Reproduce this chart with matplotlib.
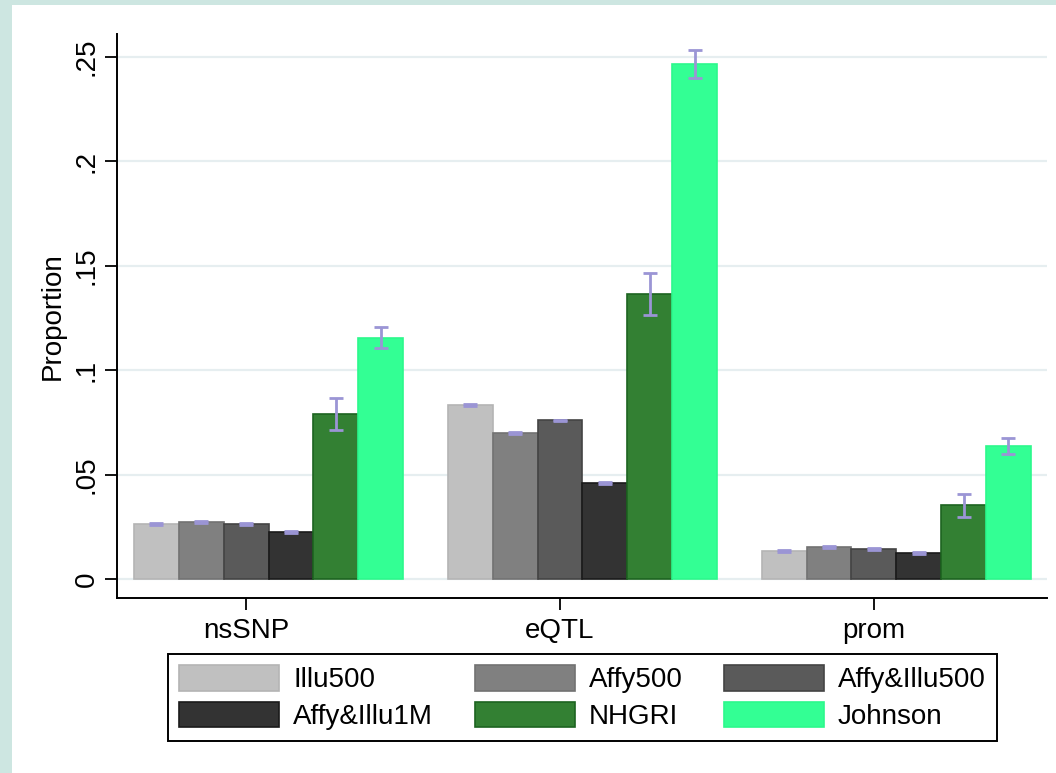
import numpy as np
import matplotlib
matplotlib.use("Agg")
import matplotlib.pyplot as plt
from matplotlib.patches import Rectangle

plt.rcParams['font.family'] = ['Liberation Sans', 'DejaVu Sans']

# data
groups = ['nsSNP', 'eQTL', 'prom']
series = ['Illu500', 'Affy500', 'Affy&Illu500', 'Affy&Illu1M', 'NHGRI', 'Johnson']
illu500 = [0.0263, 0.0833, 0.0134]
affy500 = [0.0273, 0.0700, 0.0153]
affy_illu500 = [0.0263, 0.0760, 0.0144]
affy_illu1m = [0.0225, 0.0460, 0.0125]
nhgri = [0.0790, 0.1365, 0.0354]
johnson = [0.1155, 0.2466, 0.0637]

# half-width of the confidence intervals
illu500_err = [0.0004, 0.0004, 0.0005]
affy500_err = [0.0006, 0.0004, 0.0004]
affy_illu500_err = [0.0006, 0.0003, 0.0005]
affy_illu1m_err = [0.0003, 0.0003, 0.0003]
nhgri_err = [0.0078, 0.0100, 0.0055]
johnson_err = [0.0050, 0.0068, 0.0036]

values = [illu500, affy500, affy_illu500, affy_illu1m, nhgri, johnson]
errors = [illu500_err, affy500_err, affy_illu500_err, affy_illu1m_err, nhgri_err, johnson_err]
faces = ['#c0c0c0', '#808080', '#5a5a5a', '#333333', '#338033', '#33ff94']
edges = ['#b4b4b4', '#727272', '#444444', '#1a1a1a', '#1d6420', '#2cf88c']

ytick_vals = [0, 0.05, 0.1, 0.15, 0.2, 0.25]
ytick_labels = ['0', '.05', '.1', '.15', '.2', '.25']

W, H = 1056, 773
fig = plt.figure(figsize=(W / 100, H / 100), dpi=100, facecolor='#cde6e1')
fig.patches.append(Rectangle((12 / W, 0), 1, (H - 5) / H, transform=fig.transFigure,
                             facecolor='white', edgecolor='none', zorder=-5))

ax = fig.add_axes([117 / W, (H - 598) / H, (1047 - 117) / W, (598 - 34) / H])
ax.set_zorder(2)
ax.set_facecolor('white')

n_grp = len(groups)
handles = []
for j, name in enumerate(series):
    x = np.arange(n_grp) * 7 + j + 0.5
    b = ax.bar(x, values[j], width=1.0, color=faces[j], edgecolor=edges[j],
               linewidth=1.2, label=name, zorder=2)
    handles.append(b)
    ax.errorbar(x, values[j], yerr=errors[j], fmt='none', ecolor='#9b95d5',
                elinewidth=2, capsize=4.7, capthick=2, zorder=3)

ax.set_xlim(-0.38, 20.36)
ax.set_ylim(-0.0091, 0.261)
ax.set_yticks(ytick_vals)
ax.set_yticklabels(ytick_labels, rotation=90, va='center')
ax.set_xticks(np.arange(n_grp) * 7 + 2.5)
ax.set_xticklabels(groups)
ax.tick_params(axis='both', labelsize=20, length=8.5, width=1.3, colors='black')
ax.tick_params(axis='y', pad=4)
ax.tick_params(axis='x', pad=6)
ax.yaxis.grid(True, color='#e6eef0', linewidth=1.6, zorder=0)
ax.set_axisbelow(True)
for s in ['top', 'right']:
    ax.spines[s].set_visible(False)
for s in ['left', 'bottom']:
    ax.spines[s].set_linewidth(1.4)
ax.set_ylabel('Proportion', fontsize=20, labelpad=6)

# legend is filled row by row in the reference
order = [0, 3, 1, 4, 2, 5]
leg = fig.legend([handles[i] for i in order], [series[i] for i in order],
                 loc='center', ncol=3, mode='expand',
                 bbox_to_anchor=(168 / W, (H - 742) / H, (997 - 168) / W, (742 - 653) / H),
                 borderaxespad=0, fontsize=20, handlelength=3.6, handleheight=1.05,
                 handletextpad=0.5, labelspacing=0.3, borderpad=0.4,
                 fancybox=False, framealpha=1, edgecolor='black')
leg.get_frame().set_linewidth(1.4)

fig.savefig('out.png', dpi=100, facecolor=fig.get_facecolor())
